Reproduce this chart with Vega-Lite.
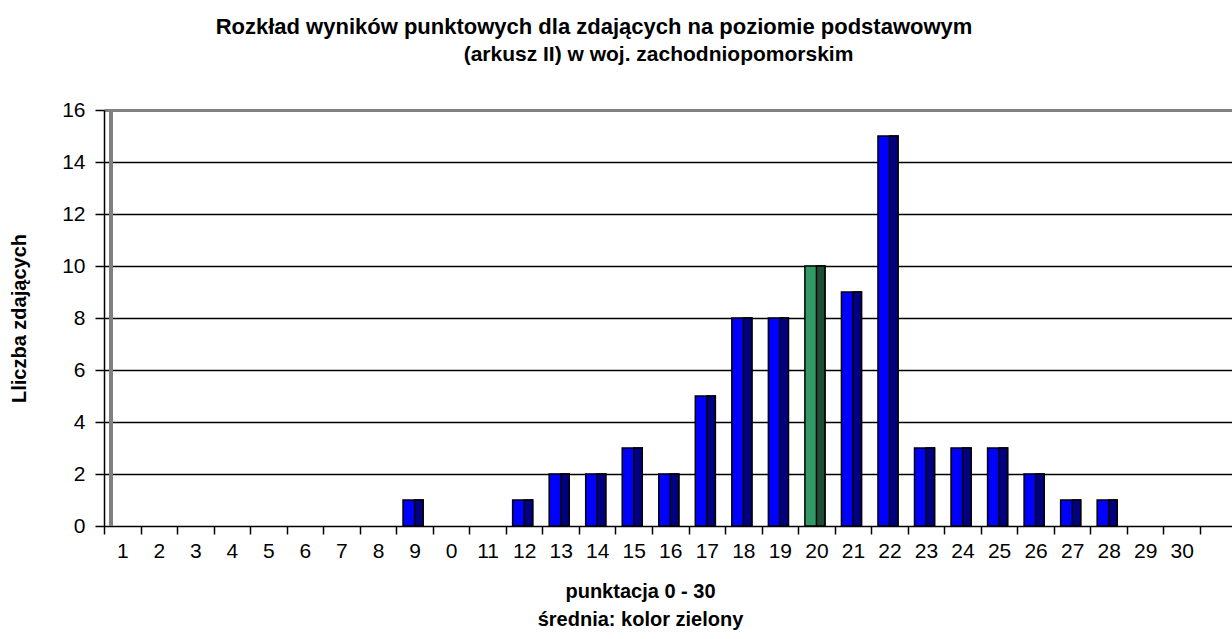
{
  "$schema": "https://vega.github.io/schema/vega-lite/v6.json",
  "width": 1128,
  "height": 416,
  "autosize": {"type": "none"},
  "padding": {"left": 104, "top": 110, "right": 0, "bottom": 113},
  "background": "white",
  "config": {"font": "Liberation Sans", "view": {"stroke": null}},
  "title": {
    "text": "Rozkład wyników punktowych dla zdających na poziomie podstawowym",
    "anchor": "middle",
    "frame": "group",
    "dx": -74,
    "fontSize": 22,
    "fontWeight": "bold",
    "color": "black",
    "baseline": "alphabetic",
    "offset": -13
  },
  "data": {
    "values": [
      {"punkty": "1", "liczba": 0, "srednia": "nie"},
      {"punkty": "2", "liczba": 0, "srednia": "nie"},
      {"punkty": "3", "liczba": 0, "srednia": "nie"},
      {"punkty": "4", "liczba": 0, "srednia": "nie"},
      {"punkty": "5", "liczba": 0, "srednia": "nie"},
      {"punkty": "6", "liczba": 0, "srednia": "nie"},
      {"punkty": "7", "liczba": 0, "srednia": "nie"},
      {"punkty": "8", "liczba": 0, "srednia": "nie"},
      {"punkty": "9", "liczba": 1, "srednia": "nie"},
      {"punkty": "10", "liczba": 0, "srednia": "nie"},
      {"punkty": "11", "liczba": 0, "srednia": "nie"},
      {"punkty": "12", "liczba": 1, "srednia": "nie"},
      {"punkty": "13", "liczba": 2, "srednia": "nie"},
      {"punkty": "14", "liczba": 2, "srednia": "nie"},
      {"punkty": "15", "liczba": 3, "srednia": "nie"},
      {"punkty": "16", "liczba": 2, "srednia": "nie"},
      {"punkty": "17", "liczba": 5, "srednia": "nie"},
      {"punkty": "18", "liczba": 8, "srednia": "nie"},
      {"punkty": "19", "liczba": 8, "srednia": "nie"},
      {"punkty": "20", "liczba": 10, "srednia": "tak"},
      {"punkty": "21", "liczba": 9, "srednia": "nie"},
      {"punkty": "22", "liczba": 15, "srednia": "nie"},
      {"punkty": "23", "liczba": 3, "srednia": "nie"},
      {"punkty": "24", "liczba": 3, "srednia": "nie"},
      {"punkty": "25", "liczba": 3, "srednia": "nie"},
      {"punkty": "26", "liczba": 2, "srednia": "nie"},
      {"punkty": "27", "liczba": 1, "srednia": "nie"},
      {"punkty": "28", "liczba": 1, "srednia": "nie"},
      {"punkty": "29", "liczba": 0, "srednia": "nie"},
      {"punkty": "30", "liczba": 0, "srednia": "nie"}
    ]
  },
  "layer": [
    {
      "transform": [{"filter": "datum.liczba > 0"}],
      "mark": {"type": "bar", "width": 20, "xOffset": -1.5, "stroke": "black", "strokeWidth": 1.5},
      "encoding": {
        "x": {
          "field": "punkty",
          "type": "ordinal",
          "sort": null,
          "scale": {
            "domain": ["1","2","3","4","5","6","7","8","9","10","11","12","13","14","15","16","17","18","19","20","21","22","23","24","25","26","27","28","29","30"],
            "paddingInner": 0,
            "paddingOuter": 0.438,
            "align": 0
          },
          "axis": {
            "orient": "bottom",
            "title": ["punktacja 0 - 30", "średnia: kolor zielony"],
            "labelExpr": "datum.value == '10' ? '0' : datum.value",
            "labelAngle": 0,
            "labelFontSize": 21,
            "labelColor": "black",
            "labelPadding": 6,
            "tickBand": "extent",
            "tickSize": 8,
            "tickColor": "black",
            "tickWidth": 1.5,
            "domain": false,
            "grid": false,
            "titleFontSize": 20,
            "titleFontWeight": "bold",
            "titleColor": "black",
            "titleX": 536,
            "titleY": 71,
            "titleBaseline": "alphabetic",
            "titleAlign": "center",
            "titleLineHeight": 28
          }
        },
        "y": {
          "field": "liczba",
          "type": "quantitative",
          "title": "Lliczba zdających",
          "scale": {"domain": [0, 16], "nice": false},
          "axis": {
            "values": [0, 2, 4, 6, 8, 10, 12, 14, 16],
            "labelFontSize": 21,
            "labelColor": "black",
            "labelPadding": 10,
            "tickSize": 9,
            "tickColor": "black",
            "tickWidth": 1.5,
            "domainColor": "black",
            "domainWidth": 1.5,
            "gridColor": {"condition": {"test": "datum.value == 16", "value": "#808080"}, "value": "black"},
            "gridWidth": {"condition": {"test": "datum.value == 16", "value": 3}, "value": 1.5},
            "titleFontSize": 20,
            "titleFontWeight": "bold",
            "titleColor": "black",
            "titleX": -75
          }
        },
        "fill": {"condition": {"test": "datum.srednia == 'tak'", "value": "#339966"}, "value": "#0000FF"}
      }
    },
    {
      "transform": [{"filter": "datum.liczba > 0"}],
      "mark": {"type": "bar", "width": 8.5, "xOffset": 4.3, "stroke": "black", "strokeWidth": 1.5},
      "encoding": {
        "x": {"field": "punkty", "type": "ordinal", "sort": null, "axis": null},
        "y": {"field": "liczba", "type": "quantitative", "title": "Lliczba zdających"},
        "fill": {"condition": {"test": "datum.srednia == 'tak'", "value": "#1E4D35"}, "value": "#000080"}
      }
    },
    {
      "mark": {"type": "rule", "xOffset": 7, "color": "#808080", "strokeWidth": 2.5},
      "encoding": {
        "x": {
          "datum": "1",
          "type": "ordinal",
          "bandPosition": 0,
          "axis": {
            "orient": "top",
            "title": "(arkusz II) w woj. zachodniopomorskim",
            "labels": false,
            "ticks": false,
            "domain": false,
            "grid": false,
            "titleFontSize": 21,
            "titleFontWeight": "bold",
            "titleColor": "black",
            "titleX": 554,
            "titleY": -50,
            "titleBaseline": "alphabetic",
            "titleAlign": "center"
          }
        },
        "y": {"datum": 0, "type": "quantitative", "title": "Lliczba zdających"},
        "y2": {"datum": 16}
      }
    }
  ],
  "resolve": {"axis": {"x": "independent"}}
}
